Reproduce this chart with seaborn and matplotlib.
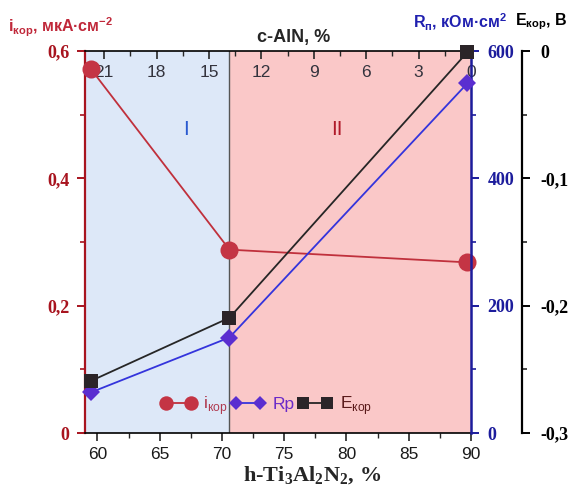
import matplotlib
matplotlib.use('Agg')
import matplotlib.pyplot as plt
import seaborn as sns
from matplotlib.ticker import MultipleLocator, FuncFormatter, FixedLocator

# данные
h_ti = [59.5, 70.6, 89.7]           # h-Ti3Al2N2, %
i_kor = [0.571, 0.288, 0.268]       # мкА/см2
rp = [64, 150, 549]                 # кОм*см2
e_kor = [-0.259, -0.2095, -0.001]   # В

c_aln_major = [21, 18, 15, 12, 9, 6, 3, 0]
c_aln_minor = [19.5, 16.5, 13.5, 10.5, 7.5, 4.5, 1.5]
border = 70.6   # граница областей I / II

sns.set_style('ticks')
plt.rcParams['font.family'] = ['Liberation Sans', 'DejaVu Sans']

red = '#a8141f'
blue = '#1c1c9c'
serif = 'Liberation Serif'


def comma_fmt(v, pos):
    if abs(v) < 1e-9:
        return '0'
    if abs(v - round(v)) < 1e-9:
        return str(int(round(v)))
    return f'{v:.1f}'.replace('.', ',')


fig = plt.figure(figsize=(5.73, 4.99), dpi=100)
ax = fig.add_axes([85 / 573, 1 - 433 / 499, 386 / 573, 382 / 499])
ax2 = ax.twinx()
ax3 = ax.twinx()

# фон областей
ax.axvspan(59, border, color='#dde8f8', zorder=0, lw=0)
ax.axvspan(border, 90, color='#fac8c8', zorder=0, lw=0)
ax.axvline(border, color='#555555', lw=1.0, zorder=1)

sns.lineplot(x=h_ti, y=i_kor, ax=ax, color='#c0303c', marker='o', markersize=13,
             markeredgewidth=0, markerfacecolor='#c43444', lw=1.3,
             label='i$_{\\mathregular{кор}}$', clip_on=False, zorder=5)
sns.lineplot(x=h_ti, y=rp, ax=ax2, color='#3434dc', marker='D', markersize=9,
             markeredgewidth=0, markerfacecolor='#5a2ed0', lw=1.3,
             label='Rp', clip_on=False, zorder=5)
sns.lineplot(x=h_ti, y=e_kor, ax=ax3, color='#262626', marker='s', markersize=10,
             markeredgewidth=0, markerfacecolor='#2b2428', lw=1.3,
             label='E$_{\\mathregular{кор}}$', clip_on=False, zorder=5)

for a in (ax, ax2, ax3):
    a.grid(False)
    if a.get_legend():
        a.get_legend().remove()

# нижняя ось
ax.set_xlim(59, 90)
ax.xaxis.set_major_locator(MultipleLocator(5))
ax.xaxis.set_minor_locator(MultipleLocator(2.5))
ax.tick_params(axis='x', which='major', direction='out', length=6, width=1.2,
               pad=4, labelsize=12.5, labelcolor='#1a1a1a')
ax.tick_params(axis='x', which='minor', direction='out', length=3.5, width=1.0)
ax.set_xlabel('')

# левая ось
ax.set_ylim(0, 0.6)
ax.yaxis.set_major_locator(MultipleLocator(0.2))
ax.yaxis.set_minor_locator(MultipleLocator(0.1))
ax.yaxis.set_major_formatter(FuncFormatter(comma_fmt))
ax.tick_params(axis='y', which='major', direction='out', length=6, width=1.4,
               color=red, pad=5)
ax.tick_params(axis='y', which='minor', direction='out', length=3.5, width=1.2, color=red)
for t in ax.get_yticklabels():
    t.set_fontfamily(serif)
    t.set_fontweight('bold')
    t.set_fontsize(13)
    t.set_color(red)
ax.spines['left'].set_color(red)
ax.spines['left'].set_linewidth(1.6)
ax.spines['right'].set_visible(False)
ax.spines['top'].set_color('black')
ax.spines['top'].set_linewidth(1.2)
ax.spines['bottom'].set_linewidth(1.2)
ax.spines['bottom'].set_color('black')

# правая ось Rp
ax2.set_ylim(0, 600)
ax2.yaxis.set_major_locator(MultipleLocator(200))
ax2.yaxis.set_minor_locator(MultipleLocator(100))
ax2.tick_params(axis='y', which='major', direction='out', length=6, width=1.4,
                color=blue, pad=6)
ax2.tick_params(axis='y', which='minor', direction='out', length=3.5, width=1.2, color=blue)
for t in ax2.get_yticklabels():
    t.set_fontfamily(serif)
    t.set_fontweight('bold')
    t.set_fontsize(13)
    t.set_color(blue)
for s in ('left', 'top', 'bottom'):
    ax2.spines[s].set_visible(False)
ax2.spines['right'].set_color(blue)
ax2.spines['right'].set_linewidth(1.8)
ax2.set_ylabel('')

# вторая правая ось Eкор
ax3.set_ylim(-0.3, 0)
ax3.spines['right'].set_position(('outward', 51 * 0.72))
ax3.yaxis.set_major_locator(MultipleLocator(0.1))
ax3.yaxis.set_minor_locator(MultipleLocator(0.05))
ax3.yaxis.set_major_formatter(FuncFormatter(comma_fmt))
ax3.tick_params(axis='y', which='major', direction='out', length=6, width=1.4,
                color='black', pad=7)
ax3.tick_params(axis='y', which='minor', direction='out', length=3.5, width=1.2)
for t in ax3.get_yticklabels():
    t.set_fontfamily(serif)
    t.set_fontweight('bold')
    t.set_fontsize(13)
    t.set_color('black')
for s in ('left', 'top', 'bottom'):
    ax3.spines[s].set_visible(False)
ax3.spines['right'].set_color('black')
ax3.spines['right'].set_linewidth(1.6)
ax3.set_ylabel('')

# верхняя ось c-AlN
k = 0.713
secax = ax.secondary_xaxis('top', functions=(lambda h: (90 - h) * k, lambda c: 90 - c / k))
secax.xaxis.set_major_locator(FixedLocator(c_aln_major))
secax.xaxis.set_minor_locator(FixedLocator(c_aln_minor))
secax.tick_params(axis='x', which='major', direction='in', length=6, width=1.2,
                  pad=-21, labelsize=12.5, labelcolor='#33333d')
secax.tick_params(axis='x', which='minor', direction='in', length=3.5, width=1.0)
secax.spines['top'].set_visible(False)

# подписи областей
ax.text(67.1, 0.477, 'I', color='#2a5ad0', fontsize=15, ha='center', va='center')
ax.text(79.2, 0.477, 'II', color='#b01a2a', fontsize=15, ha='center', va='center')

# легенда
handles = []
labels = []
for a in (ax, ax2, ax3):
    h, l = a.get_legend_handles_labels()
    handles += h
    labels += l
leg = ax3.legend(handles, labels, loc='center', bbox_to_anchor=(0.47, 0.072), ncol=3,
                 frameon=False, numpoints=2, handlelength=2.0, handletextpad=0.4,
                 columnspacing=0.2, fontsize=12.5, markerscale=0.8)
for t, c in zip(leg.get_texts(), ['#b03a50', '#6a2ac8', '#5a1a1a']):
    t.set_color(c)

# подписи осей
fig.text(8 / 573, 1 - 27 / 499, 'i$_{\\mathregular{кор}}$, мкА·см$^{\\mathregular{-2}}$',
         color='#c0283a', fontsize=11.5, fontweight='bold', ha='left', va='center')
fig.text(413 / 573, 1 - 22 / 499, 'R$_{\\mathregular{п}}$, кОм·см$^{\\mathregular{2}}$',
         color='#2020b0', fontsize=11.5, fontweight='bold', ha='left', va='center')
fig.text(567 / 573, 1 - 22 / 499, 'E$_{\\mathregular{кор}}$, В',
         color='black', fontsize=11.5, fontweight='bold', ha='right', va='center')
ax.text(0.54, 1.035, 'c-AlN, %', transform=ax.transAxes, fontsize=13,
        fontweight='bold', ha='center', va='center')
fig.text(312 / 573, 1 - 476 / 499, 'h-Ti$_{\\mathregular{3}}$Al$_{\\mathregular{2}}$N$_{\\mathregular{2}}$, %',
         fontfamily=serif, fontweight='bold', fontsize=16, ha='center', va='center')

fig.savefig('out.png', dpi=100)
